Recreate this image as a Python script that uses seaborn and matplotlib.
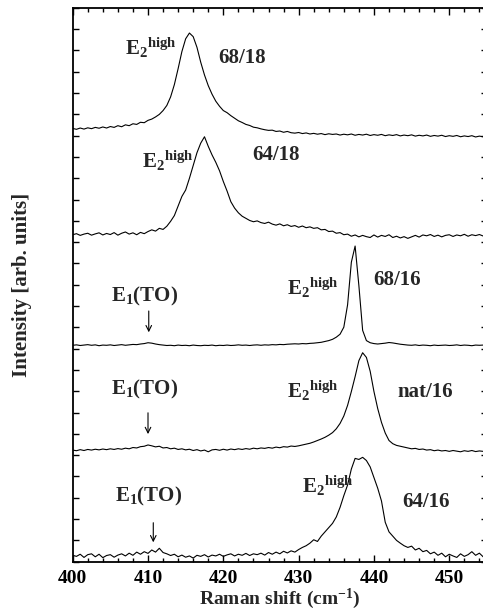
import numpy as np
import pandas as pd
import seaborn as sns
import matplotlib
matplotlib.use("Agg")
import matplotlib.pyplot as plt
from matplotlib.ticker import MultipleLocator, NullFormatter

# Raman shift grid (cm^-1), one value every 0.5 cm^-1
shift = np.arange(400, 455.01, 0.5)

# intensities above each trace's own baseline
i_68_18 = [0.14, 0.10, 0.16, 0.11, 0.17, 0.13, 0.19, 0.15, 0.21, 0.16,
           0.23, 0.19, 0.27, 0.22, 0.31, 0.27, 0.36, 0.33, 0.43, 0.41,
           0.52, 0.58, 0.68, 0.80, 0.98, 1.22, 1.62, 2.20, 2.95, 3.75,
           4.35, 4.62, 4.45, 3.95, 3.25, 2.65, 2.15, 1.75, 1.42, 1.18,
           0.98, 0.88, 0.74, 0.62, 0.50, 0.42, 0.33, 0.28, 0.20, 0.17,
           0.12, 0.08, 0.05, 0.06, 0.00, 0.02, -0.04, 0.00, -0.06, -0.08,
           -0.05, -0.10, -0.07, -0.12, -0.09, -0.13, -0.10, -0.15, -0.11, -0.14,
           -0.12, -0.17, -0.13, -0.16, -0.12, -0.18, -0.14, -0.17, -0.13, -0.19,
           -0.15, -0.18, -0.14, -0.20, -0.16, -0.19, -0.15, -0.21, -0.17, -0.20,
           -0.16, -0.22, -0.18, -0.21, -0.17, -0.23, -0.19, -0.22, -0.18, -0.24,
           -0.20, -0.23, -0.19, -0.25, -0.21, -0.24, -0.20, -0.26, -0.22, -0.25,
           -0.23]
i_64_18 = [0.05, 0.10, 0.02, 0.08, 0.12, 0.03, 0.09, 0.14, 0.04, 0.11,
           0.06, 0.15, 0.03, 0.12, 0.18, 0.08, 0.14, 0.05, 0.16, 0.10,
           0.20, 0.28, 0.22, 0.35, 0.30, 0.45, 0.68, 0.95, 1.40, 1.85,
           2.15, 2.70, 3.30, 3.90, 4.35, 4.65, 4.20, 3.80, 3.45, 3.05,
           2.55, 2.10, 1.60, 1.30, 1.08, 0.92, 0.82, 0.72, 0.66, 0.70,
           0.62, 0.58, 0.64, 0.55, 0.50, 0.56, 0.47, 0.52, 0.44, 0.48,
           0.40, 0.46, 0.38, 0.42, 0.35, 0.38, 0.28, 0.30, 0.20, 0.22,
           0.12, 0.15, 0.05, 0.08, -0.02, 0.04, -0.05, 0.02, -0.04, -0.08,
           0.04, -0.06, 0.02, -0.03, 0.05, -0.08, -0.02, -0.10, -0.04, -0.12,
           -0.05, 0.02, -0.06, 0.04, 0.00, 0.06, -0.03, 0.03, -0.05, 0.02,
           0.05, -0.03, 0.04, 0.00, 0.07, -0.02, 0.05, 0.01, 0.06, -0.01,
           0.03]
i_68_16 = [0.00, 0.02, -0.01, 0.01, 0.03, 0.00, 0.02, -0.02, 0.01, 0.00,
           0.02, -0.01, 0.01, 0.03, 0.00, 0.02, 0.04, 0.03, 0.06, 0.08,
           0.12, 0.10, 0.06, 0.03, 0.01, -0.01, 0.00, -0.02, 0.01, -0.01,
           0.00, -0.02, 0.01, -0.01, -0.02, 0.00, -0.01, 0.01, -0.02, 0.00,
           -0.01, 0.01, -0.01, 0.00, 0.02, 0.00, 0.01, -0.01, 0.01, 0.02,
           0.00, 0.02, 0.01, 0.03, 0.02, 0.04, 0.03, 0.05, 0.06, 0.07,
           0.06, 0.08, 0.07, 0.09, 0.10, 0.12, 0.14, 0.18, 0.22, 0.28,
           0.38, 0.52, 0.85, 1.90, 3.90, 4.66, 2.80, 0.70, 0.22, 0.12,
           0.08, 0.06, 0.08, 0.10, 0.13, 0.11, 0.08, 0.05, 0.03, 0.01,
           0.00, 0.02, -0.01, 0.01, 0.00, -0.02, 0.01, -0.01, 0.00, 0.01,
           -0.01, 0.00, 0.02, -0.01, 0.01, 0.00, -0.02, 0.01, 0.00, 0.01,
           0.00]
i_nat_16 = [0.00, -0.03, 0.02, -0.02, 0.03, 0.00, 0.04, 0.01, 0.05, 0.02,
            0.06, 0.03, 0.07, 0.04, 0.09, 0.06, 0.12, 0.10, 0.16, 0.18,
            0.24, 0.20, 0.15, 0.18, 0.10, 0.12, 0.06, 0.09, 0.03, 0.06,
            0.01, 0.04, -0.02, 0.02, -0.04, 0.00, -0.08, 0.01, 0.03, -0.01,
            0.04, 0.00, 0.05, 0.02, 0.06, 0.03, 0.07, 0.04, 0.09, 0.06,
            0.10, 0.08, 0.12, 0.09, 0.14, 0.11, 0.16, 0.14, 0.19, 0.17,
            0.20, 0.24, 0.28, 0.32, 0.38, 0.45, 0.52, 0.60, 0.70, 0.82,
            1.00, 1.25, 1.60, 2.10, 2.75, 3.45, 4.20, 4.57, 4.35, 3.70,
            2.75, 1.95, 1.30, 0.80, 0.45, 0.30, 0.22, 0.18, 0.14, 0.10,
            0.06, 0.08, 0.03, 0.05, 0.00, 0.02, -0.03, 0.00, -0.04, -0.02,
            -0.06, -0.02, -0.05, -0.08, -0.03, -0.06, -0.02, -0.07, -0.04, -0.06,
            -0.05]
i_64_16 = [0.05, 0.00, 0.10, -0.05, 0.08, 0.12, -0.02, 0.10, -0.06, 0.04,
           0.08, -0.04, 0.06, 0.12, 0.02, 0.15, 0.05, 0.20, 0.10, 0.22,
           0.14, 0.30, 0.20, 0.38, 0.18, 0.12, 0.04, 0.10, -0.02, 0.06,
           -0.04, 0.02, -0.08, 0.05, 0.00, 0.08, -0.03, 0.06, 0.02, 0.10,
           0.00, 0.07, 0.12, 0.02, 0.10, 0.05, 0.14, 0.04, 0.12, 0.08,
           0.15, 0.06, 0.18, 0.10, 0.20, 0.12, 0.24, 0.16, 0.26, 0.20,
           0.32, 0.42, 0.50, 0.62, 0.78, 0.70, 0.95, 1.15, 1.35, 1.55,
           1.85, 2.30, 2.85, 3.35, 4.10, 4.60, 4.55, 4.65, 4.50, 4.20,
           3.70, 3.20, 2.60, 1.60, 1.15, 0.95, 0.75, 0.62, 0.50, 0.42,
           0.48, 0.30, 0.38, 0.22, 0.28, 0.12, 0.20, 0.05, 0.15, -0.02,
           0.10, 0.02, -0.05, 0.12, 0.00, 0.08, 0.22, 0.05, 0.15, -0.02,
           0.08]

samples = ["68/18", "64/18", "68/16", "nat/16", "64/16"]
offsets = [20.2, 15.3, 10.16, 5.24, 0.25]
spectra = [i_68_18, i_64_18, i_68_16, i_nat_16, i_64_16]

rows = []
for name, off, spec in zip(samples, offsets, spectra):
    for x, v in zip(shift, spec):
        rows.append({"shift": x, "intensity": v + off, "sample": name})
df = pd.DataFrame(rows)

sns.set_style("ticks")
plt.rcParams["font.family"] = ["Liberation Serif", "DejaVu Serif"]
plt.rcParams["font.weight"] = "bold"
plt.rcParams["mathtext.fontset"] = "custom"
plt.rcParams["mathtext.rm"] = "Liberation Serif:bold"
plt.rcParams["mathtext.bf"] = "Liberation Serif:bold"
plt.rcParams["mathtext.it"] = "Liberation Serif:bold"

fig = plt.figure(figsize=(4.83, 6.12), dpi=100)
ax = fig.add_axes([0.1505, 0.0822, 0.8576, 0.9049])

for name in samples:
    sns.lineplot(data=df[df["sample"] == name], x="shift", y="intensity",
                 color="black", lw=0.8, ax=ax, legend=False)

ax.set_xlim(400, 455)
ax.set_ylim(0, 26)
ax.xaxis.set_major_locator(MultipleLocator(10))
ax.xaxis.set_minor_locator(MultipleLocator(2))
ax.yaxis.set_major_locator(MultipleLocator(1))
ax.yaxis.set_major_formatter(NullFormatter())
ax.tick_params(axis="both", which="both", direction="in", top=True, right=True,
               width=1, colors="black")
ax.tick_params(axis="x", which="major", length=5, labelsize=14, pad=6)
ax.tick_params(axis="x", which="minor", length=3)
ax.tick_params(axis="y", which="major", length=4)
for s in ax.spines.values():
    s.set_linewidth(1.3)
    s.set_color("black")

ax.set_xlabel("Raman shift (cm$^{-1}$)", fontsize=14, fontweight="bold", labelpad=0)
ax.set_ylabel("Intensity [arb. units]", fontsize=15, fontweight="bold", labelpad=26)

# E2 high labels (x, baseline y)
e2_pos = [(407.0, 23.79), (409.2, 18.47), (428.5, 12.52), (428.5, 7.67), (430.5, 3.22)]
name_pos = [(419.3, 23.4), (423.8, 18.86), (439.9, 13.0), (443.1, 7.73), (443.7, 2.57)]
for (ex, ey), (nx, ny), name in zip(e2_pos, name_pos, samples):
    ax.text(ex, ey, r"E$_\mathbf{2}$$^\mathbf{high}$", fontsize=15, fontweight="bold",
            ha="left", va="baseline")
    ax.text(nx, ny, name, fontsize=15, fontweight="bold", ha="left", va="baseline")

# E1(TO) labels with arrows
to_text = [(409.6, 12.2), (409.6, 7.83), (410.1, 2.82)]
to_arrow = [(410.1, 11.9, 10.64), (410.0, 7.12, 5.86), (410.7, 1.96, 0.78)]
for (tx, ty), (axx, y0, y1) in zip(to_text, to_arrow):
    ax.text(tx, ty, r"E$_\mathbf{1}$(TO)", fontsize=15, fontweight="bold",
            ha="center", va="baseline")
    ax.annotate("", xy=(axx, y1), xytext=(axx, y0),
                arrowprops=dict(arrowstyle="->", lw=0.8, color="black"))

fig.savefig("out.png", dpi=100)
